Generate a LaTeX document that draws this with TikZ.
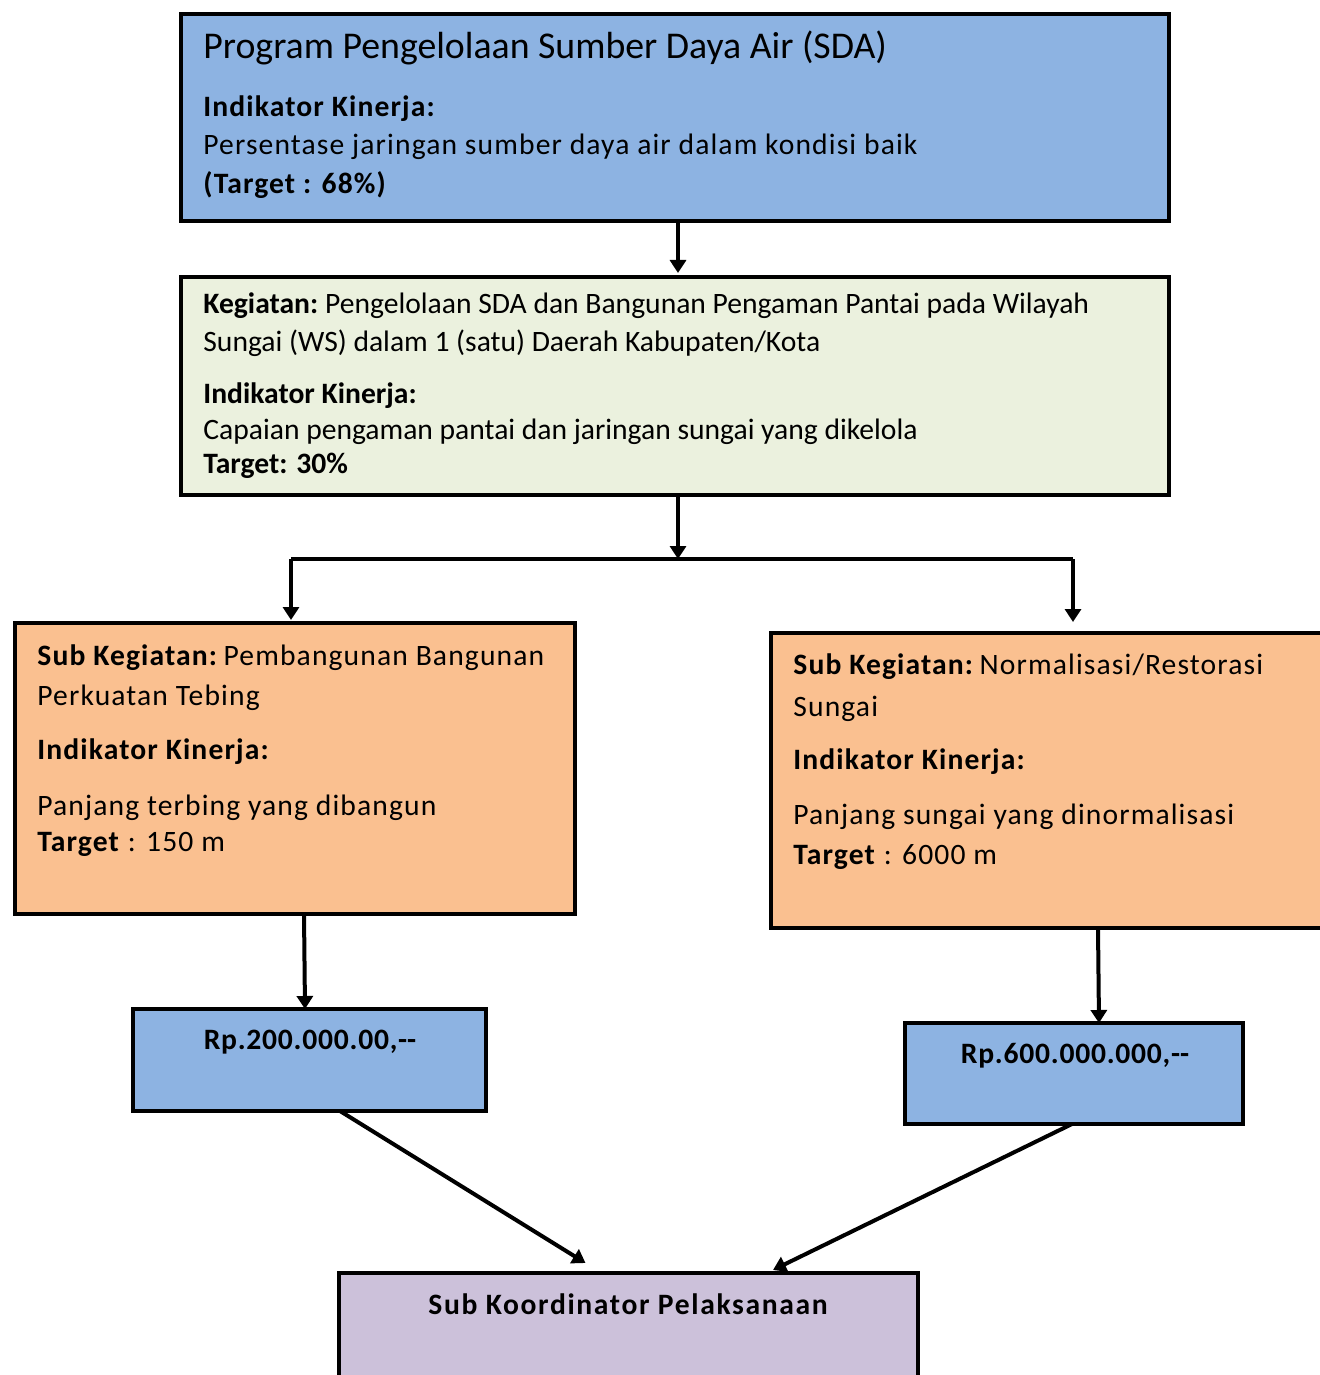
\documentclass[tikz,border=0pt]{standalone}
\usepackage{fontspec}
\setmainfont{Carlito}
\usetikzlibrary{arrows.meta}
\definecolor{cblue}{HTML}{8DB3E2}
\definecolor{cgreen}{HTML}{EBF1DE}
\definecolor{corange}{HTML}{FAC090}
\definecolor{cpurple}{HTML}{CCC1DA}
\newcommand{\bodyfont}{\fontsize{14.8}{17}\selectfont}
\begin{document}
\begin{tikzpicture}[x=0.5pt,y=-0.5pt,
  box/.style={draw=black,line width=2pt,rectangle,inner sep=0pt,outer sep=0pt,anchor=north west},
  txt/.style={anchor=base west,inner sep=0pt,font=\bodyfont},
  stxt/.style={anchor=base west,inner sep=0pt,font=\bodyfont\addfontfeatures{LetterSpace=3.8}},
  mtxt/.style={anchor=base,inner sep=0pt,font=\bodyfont\bfseries\addfontfeatures{LetterSpace=2.5}},
  ktxt/.style={anchor=base,inner sep=0pt,font=\bodyfont\bfseries\addfontfeatures{LetterSpace=5.5}},
  ttl/.style={anchor=base west,inner sep=0pt,font=\fontsize{18.9}{21}\selectfont},
  arr/.style={line width=2pt,-{Triangle[width=8pt,length=6.5pt]}},
  ln/.style={line width=2pt}]
\useasboundingbox (0,0) rectangle (1319,1375);
% boxes
\node[box,fill=cblue,minimum width=494pt,minimum height=103.5pt] (prog) at (181,14) {};
\node[box,fill=cgreen,minimum width=494pt,minimum height=109pt] (keg) at (181,277) {};
\node[box,fill=corange,minimum width=280pt,minimum height=145.5pt] (subL) at (15,623) {};
\node[box,fill=corange,minimum width=279.5pt,minimum height=147.5pt] (subR) at (771,633) {};
\node[box,fill=cblue,minimum width=176.5pt,minimum height=51pt] (rpL) at (133,1009) {};
\node[box,fill=cblue,minimum width=169pt,minimum height=50.5pt] (rpR) at (905,1023) {};
\node[box,fill=cpurple,minimum width=289.5pt,minimum height=58.5pt] (koor) at (339,1273) {};
% texts top
\node[ttl] (t1) at (203,59) {Program Pengelolaan Sumber Daya Air (SDA)};
\node[stxt] (t2) at (203,117) {\textbf{Indikator Kinerja:}};
\node[stxt] (t3) at (203,155) {Persentase jaringan sumber daya air dalam kondisi baik};
\node[stxt] (t4) at (203,194) {\textbf{(Target : 68\%)}};
% texts second
\node[txt] (k1) at (203,314) {\textbf{Kegiatan:}\kern-1pt{} Pengelolaan SDA dan Bangunan Pengaman Pantai pada Wilayah};
\node[txt] (k2) at (203,351) {Sungai (WS) dalam 1 (satu) Daerah Kabupaten/Kota};
\node[txt] (k3) at (203,403) {\textbf{Indikator Kinerja:}};
\node[txt] (k4) at (203,439) {Capaian pengaman pantai dan jaringan sungai yang dikelola};
\node[txt] (k5) at (203,473) {\textbf{Target: 30\%}};
% left orange
\node[stxt] (l1) at (37,665) {\textbf{Sub Kegiatan:}\kern-2.5pt{} Pembangunan Bangunan};
\node[stxt] (l2) at (37,705) {Perkuatan Tebing};
\node[stxt] (l3) at (37,759) {\textbf{Indikator Kinerja:}};
\node[stxt] (l4) at (37,815) {Panjang terbing yang dibangun};
\node[stxt] (l5) at (37,851) {\textbf{Target} : 150 m};
% right orange
\node[stxt] (r1) at (793,674) {\textbf{Sub Kegiatan:}\kern-2.5pt{} Normalisasi/Restorasi};
\node[stxt] (r2) at (793,716) {Sungai};
\node[stxt] (r3) at (793,769) {\textbf{Indikator Kinerja:}};
\node[stxt] (r4) at (793,824) {Panjang sungai yang dinormalisasi};
\node[stxt] (r5) at (793,864) {\textbf{Target} : 6000 m};
% money
\node[mtxt] (m1) at (310,1049) {Rp.200.000.00,-\kern0pt-};
\node[mtxt] (m2) at (1075,1063) {Rp.600.000.000,-\kern0pt-};
\node[ktxt] (kt) at (628,1314) {Sub Koordinator Pelaksanaan};
% connectors
\coordinate (jn) at (678,559);
\coordinate (hl) at (291,559);
\coordinate (hr) at (1073,559);
\draw[arr] ([xshift=1.5pt]prog.south) -- ([xshift=1.5pt,yshift=2pt]keg.north);
\draw[arr] ([xshift=1.5pt]keg.south) -- (jn);
\draw[ln] (hl) -- (hr);
\draw[arr] (hl) -- ([yshift=1.5pt]hl |- subL.north);
\draw[arr] (hr) -- ([yshift=5.5pt]hr |- subR.north);
\draw[arr] ([xshift=4.5pt]subL.south) -- ([xshift=-2.25pt]rpL.north);
\draw[arr] ([xshift=23.75pt]subR.south) -- ([xshift=12.5pt]rpR.north);
\draw[arr] ([xshift=15.25pt]rpL.south) -- ([xshift=-21.5pt,yshift=5pt]koor.north);
\draw[arr] ([xshift=-1pt]rpR.south) -- ([xshift=72.25pt,yshift=1.5pt]koor.north);
\end{tikzpicture}
\end{document}
